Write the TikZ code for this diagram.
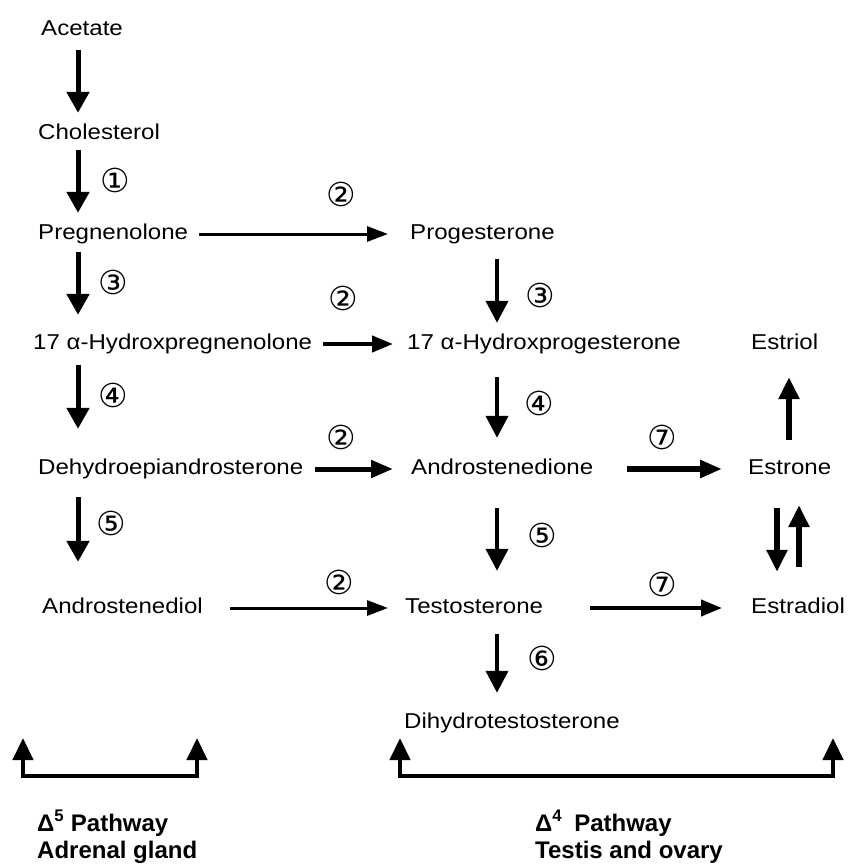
\documentclass[tikz,border=0pt]{standalone}
\usepackage{fontspec}
\setmainfont{Liberation Sans}[FakeStretch=1.12]
\newfontfamily\boldlabel{Liberation Sans}
\newfontfamily\circfont{DejaVu Sans}
\usetikzlibrary{arrows.meta,calc}
\begin{document}
\begin{tikzpicture}[x=1pt,y=-1pt,
  txt/.style={anchor=base west, inner sep=0pt, text height=15.5pt, text depth=4.5pt, font=\fontsize{21.5}{25}\selectfont},
  bold/.style={anchor=base west, inner sep=0pt, font=\boldlabel\bfseries\fontsize{24}{28}\selectfont},
  circ/.style={inner sep=0pt, font=\circfont\fontsize{33}{33}\selectfont},
  va/.style={line width=5pt, -{Triangle[length=21pt,width=22pt]}},
  vb/.style={line width=4pt, -{Triangle[length=22pt,width=22pt]}},
  ve/.style={line width=6pt, -{Triangle[length=22pt,width=20pt]}},
  hthin/.style={line width=3pt, -{Triangle[length=21pt,width=15pt]}},
  hmid/.style={line width=4pt, -{Triangle[length=21pt,width=16pt]}},
  hthick/.style={line width=5pt, -{Triangle[length=22pt,width=17pt]}},
  bracket/.style={line width=4.5pt, line join=miter, {Triangle[length=22pt,width=20pt]}-{Triangle[length=22pt,width=20pt]}}
]
\path[use as bounding box, fill=white] (0,0) rectangle (849,867);

% column coordinates
\coordinate (xA) at (78,0);
\coordinate (xB) at (497,0);
\coordinate (xE1) at (789,0);
\coordinate (xE2) at (777,0);
\coordinate (xE3) at (799,0);

% text nodes (baseline = centre + 7.5)
\node[txt] (acetate)   at (41,35.5)  {Acetate};
\node[txt] (chol)      at (38,139.5) {Cholesterol};
\node[txt] (preg)      at (38,239.5) {Pregnenolone};
\node[txt] (prog)      at (410,239.5) {Progesterone};
\node[txt] (hpreg)     at (33,349.5) {17 α-Hydroxpregnenolone};
\node[txt] (hprog)     at (407,349.5) {17 α-Hydroxprogesterone};
\node[txt] (estriol)   at (751,349.5) {Estriol};
\node[txt] (dhea)      at (38,474.5) {Dehydroepiandrosterone};
\node[txt] (andro)     at (411,474.5) {Androstenedione};
\node[txt] (estrone)   at (748,474.5) {Estrone};
\node[txt] (androdiol) at (42,613.5) {Androstenediol};
\node[txt] (testo)     at (405,613.5) {Testosterone};
\node[txt] (estradiol) at (751,613.5) {Estradiol};
\node[txt] (dht)       at (404,728.5) {Dihydrotestosterone};

% enzyme labels
\node[circ] (l1a) at (115,180) {①};
\node[circ] (l3a) at (113,282) {③};
\node[circ] (l4a) at (113,395) {④};
\node[circ] (l5a) at (111,523) {⑤};
\node[circ] (l2a) at (341,194) {②};
\node[circ] (l2b) at (343,298) {②};
\node[circ] (l2c) at (341,437) {②};
\node[circ] (l2d) at (339,582) {②};
\node[circ] (l3b) at (540,295) {③};
\node[circ] (l4b) at (539,403) {④};
\node[circ] (l5b) at (542,535) {⑤};
\node[circ] (l6b) at (542,658) {⑥};
\node[circ] (l7a) at (662,437) {⑦};
\node[circ] (l7b) at (662,584) {⑦};

% left column vertical arrows
\draw[va, shorten <=10pt, shorten >=11pt] (acetate.south -| xA) -- (chol.north -| xA);
\draw[va, shorten <=6pt, shorten >=11pt] (chol.south -| xA) -- (preg.north -| xA);
\draw[va, shorten <=8pt, shorten >=19pt] (preg.south -| xA) -- (hpreg.north -| xA);
\draw[va, shorten <=11pt, shorten >=30pt] (hpreg.south -| xA) -- (dhea.north -| xA);
\draw[va, shorten <=18pt, shorten >=36pt] (dhea.south -| xA) -- (androdiol.north -| xA);

% middle column vertical arrows
\draw[vb, shorten <=15pt, shorten >=11pt] (prog.south -| xB) -- (hprog.north -| xB);
\draw[vb, shorten <=23pt, shorten >=21pt] (hprog.south -| xB) -- (andro.north -| xB);
\draw[vb, shorten <=29pt, shorten >=27pt] (andro.south -| xB) -- (testo.north -| xB);
\draw[vb, shorten <=16pt, shorten >=20pt] (testo.south -| xB) -- (dht.north -| xB);

% estrogen column
\draw[ve, shorten <=19pt, shorten >=23pt] (estrone.north -| xE1) -- (estriol.south -| xE1);
\draw[ve, shorten <=29pt, shorten >=26pt] (estrone.south -| xE2) -- (estradiol.north -| xE2);
\draw[ve, shorten <=31pt, shorten >=26pt] (estradiol.north -| xE3) -- (estrone.south -| xE3);

% horizontal arrows
\draw[hthin, shorten <=11pt, shorten >=22pt] (preg.east) -- (prog.west);
\draw[hmid, shorten <=11pt, shorten >=14pt] (hpreg.east) -- (hprog.west);
\draw[hthick, shorten <=12pt, shorten >=18pt] (dhea.east) -- (andro.west);
\draw[hthick, line width=6pt, shorten <=34pt, shorten >=26pt] (andro.east) -- (estrone.west);
\draw[hthin, shorten <=27pt, shorten >=17pt] (androdiol.east) -- (testo.west);
\draw[hmid, shorten <=47pt, shorten >=29pt] (testo.east) -- (estradiol.west);

% pathway brackets
\coordinate (lb1) at (23,738);
\coordinate (lb2) at (197,738);
\coordinate (rb1) at (400,738);
\coordinate (rb2) at (833,738);
\coordinate (base) at (0,776);
\draw[bracket] (lb1) -- (lb1 |- base) -- (lb2 |- base) -- (lb2);
\draw[bracket] (rb1) -- (rb1 |- base) -- (rb2 |- base) -- (rb2);

% pathway labels
\node[bold] (d5)  at (37,831)  {Δ\textsuperscript{5} Pathway};
\node[bold] (adr) at (37,858.5) {Adrenal gland};
\node[bold] (d4)  at (535,831) {Δ\textsuperscript{4}\hspace{0.5em}Pathway};
\node[bold] (tes) at (535,858.5) {Testis and ovary};
\end{tikzpicture}
\end{document}
